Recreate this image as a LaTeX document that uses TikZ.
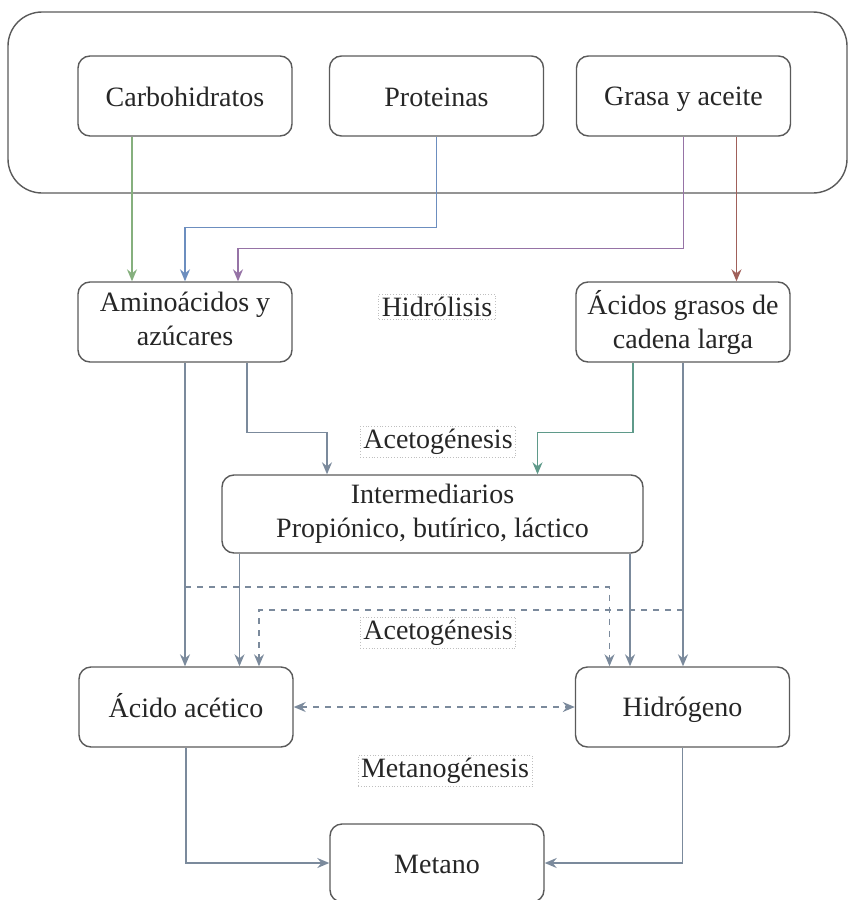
\documentclass[tikz,border=0pt]{standalone}
\usepackage{fontspec}
\setmainfont{Liberation Serif}
\usetikzlibrary{arrows.meta}
\definecolor{borde}{HTML}{5A5A5A}
\definecolor{linea}{HTML}{7B8A9C}
\definecolor{verde}{HTML}{86B07E}
\definecolor{azul}{HTML}{6C8EBF}
\definecolor{morado}{HTML}{9673A6}
\definecolor{rojo}{HTML}{A0605A}
\definecolor{turquesa}{HTML}{5F9A8A}
\newcommand{\altoarriba}{\rule{0pt}{13pt}}
\newcommand{\altoabajo}{\rule[-3pt]{0pt}{3pt}}
\begin{document}
\begin{tikzpicture}[x=0.5pt,y=-0.5pt]
  \tikzstyle{every node}=[font=\fontsize{14}{17}\selectfont, text=black!85]
  \tikzstyle{caja}=[draw=borde, line width=0.7pt, rounded corners=6pt, fill=white,
                    minimum width=107pt, minimum height=40pt, align=center, inner sep=2pt,
                    execute at begin node=\altoarriba, execute at end node=\altoabajo]
  \tikzstyle{etapa}=[draw=black!25, densely dotted, inner sep=1.5pt]
  \tikzstyle{flecha}=[draw=linea, line width=0.75pt, -{Stealth[length=6pt,width=5pt,inset=2pt]}]
  \useasboundingbox (0,0) rectangle (849,900);
  % sustratos
  \draw[borde, line width=0.7pt, rounded corners=17pt] (8,12) rectangle (847,193);
  \node[caja] (carb)  at (185,96)   {Carbohidratos};
  \node[caja] (prot)  at (436.5,96) {Proteinas};
  \node[caja] (grasa) at (683.5,96) {Grasa y aceite};
  % productos
  \node[caja] (amino)   at (185,322) {Aminoácidos y\\azúcares};
  \node[caja] (acidos)  at (683,322) {Ácidos grasos de\\cadena larga};
  \node[caja, minimum width=210.5pt, minimum height=39pt] (inter) at (432.5,514)
        {Intermediarios\\Propiónico, butírico, láctico};
  \node[caja] (acetico) at (186,707)   {Ácido acético};
  \node[caja] (hidro)   at (682.5,707) {Hidrógeno};
  \node[caja, minimum height=39pt] (metano) at (437,863) {Metano};
  % etapas
  \node[etapa] (hidrolisis) at (437,307) {Hidrólisis};
  \node[etapa] (aceto1)     at (438,442) {Acetogénesis};
  \node[etapa] (aceto2)     at (438,633) {Acetogénesis};
  \node[etapa] (metanog)    at (445,771) {Metanogénesis};
  % conexiones
  \draw[flecha, draw=verde] ([xshift=-26.5pt]carb.south) -- ([xshift=-26.5pt]amino.north);
  \draw[flecha, draw=azul] (prot.south) -- ++(0,91) -| (amino.north);
  \draw[flecha, draw=morado] (grasa.south) -- ++(0,112) -| ([xshift=26.5pt]amino.north);
  \draw[flecha, draw=rojo] ([xshift=26.5pt]grasa.south) -- ([xshift=26.5pt]grasa.south |- acidos.north);
  \draw[flecha] (amino.south) -- (amino.south |- acetico.north);
  \draw[flecha] ([xshift=31pt]amino.south) -- ++(0,70) -| ([xshift=-52.75pt]inter.north);
  \draw[flecha, draw=turquesa] ([xshift=-25pt]acidos.south) -- ++(0,70) -| ([xshift=52.5pt]inter.north);
  \draw[flecha] (acidos.south) -- (acidos.south |- hidro.north);
  \draw[flecha] ([xshift=-96.5pt]inter.south) -- ([xshift=-96.5pt]inter.south |- acetico.north);
  \draw[flecha] ([xshift=98.75pt]inter.south) -- ([xshift=98.75pt]inter.south |- hidro.north);
  \draw[flecha, dashed] (amino.south |- 0,587) -| ([xshift=-36.5pt]hidro.north);
  \draw[flecha, dashed] (acidos.south |- 0,610) -| ([xshift=36.5pt]acetico.north);
  \draw[flecha, dashed, {Stealth[length=6pt,width=5pt,inset=2pt]}-{Stealth[length=6pt,width=5pt,inset=2pt]}]
        (acetico.east) -- (hidro.west);
  \draw[flecha] (acetico.south) |- (metano.west);
  \draw[flecha] (hidro.south) |- (metano.east);
\end{tikzpicture}
\end{document}
